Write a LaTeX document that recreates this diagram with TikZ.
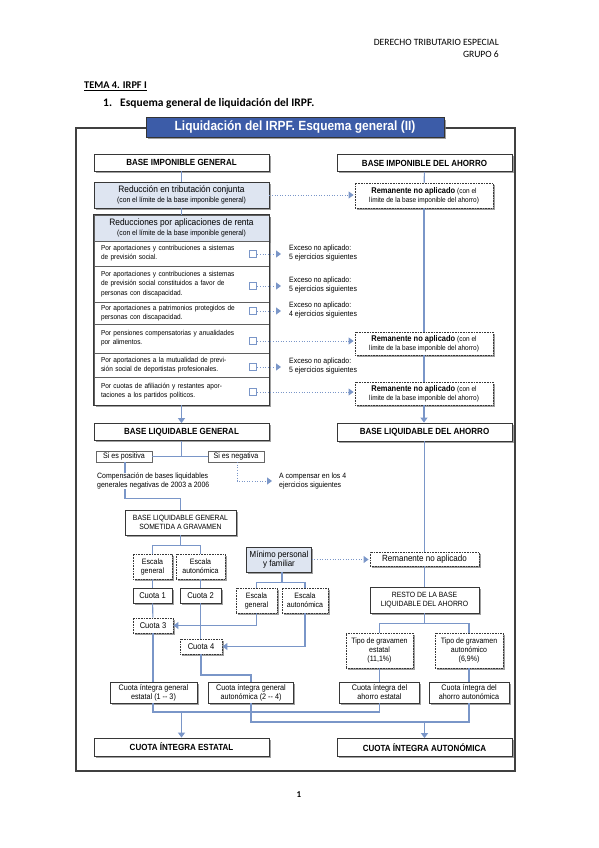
\documentclass[tikz,border=0pt]{standalone}
\usepackage{fontspec}
\setmainfont{Liberation Sans}
\newfontfamily\cf[FakeStretch=0.9]{Liberation Sans}
\newfontfamily\calf{Carlito}
\usetikzlibrary{arrows.meta,shadows}
\definecolor{lb}{RGB}{122,150,200}
\definecolor{bannerblue}{RGB}{60,92,168}
\definecolor{lfill}{RGB}{222,229,241}
\definecolor{bdr}{RGB}{55,55,55}
\tikzset{
 shd/.style={drop shadow={shadow xshift=1.6pt,shadow yshift=-1.6pt,fill=black!50,opacity=0.75}},
 hbox/.style={draw=bdr,line width=0.8pt,fill=white,shd,minimum width=175,minimum height=17,inner sep=0,font=\cf\bfseries\fontsize{8.9}{10}\selectfont},
 sbox/.style={draw=bdr,line width=0.7pt,fill=white,shd,inner sep=0,align=center,font=\cf\fontsize{8}{9}\selectfont},
 dbox/.style={draw=bdr,dash pattern=on 0.8pt off 0.8pt,line width=0.9pt,fill=white,shd,inner sep=0,align=center,font=\cf\fontsize{7.8}{9}\selectfont},
 fbox/.style={sbox,fill=lfill},
 rowbox/.style={draw=bdr!80,line width=0.5pt,fill=white,inner xsep=7,inner ysep=0,text width=161,align=left,font=\cf\fontsize{7.2}{9.2}\selectfont},
 sq/.style={draw=lb,line width=1.1pt,fill=white,minimum size=7.5,inner sep=0},
 lnk/.style={draw=lb,line width=1.1pt},
 dlnk/.style={draw=lb,line width=1pt,dash pattern=on 1pt off 1.6pt},
 arr/.style={-{Triangle[length=5pt,width=7pt]}},
 note/.style={inner sep=0,anchor=west,align=left,font=\cf\fontsize{7.7}{8.8}\selectfont},
}
\newcommand{\remtxt}{{\fontsize{8.3}{9}\selectfont\bfseries Remanente no aplicado} {\fontsize{7.2}{8.6}\selectfont(con el}\\{\fontsize{7.2}{8.6}\selectfont l\'imite de la base imponible del ahorro)}}
\begin{document}
\begin{tikzpicture}[x=1pt,y=-1pt]
\useasboundingbox (0,0) rectangle (599,848);
% page header
\node[anchor=base east,inner sep=0,font=\calf\fontsize{9.6}{10}\selectfont] (h1) at (499,46) {DERECHO TRIBUTARIO ESPECIAL};
\node[anchor=base east,inner sep=0,font=\calf\fontsize{9.6}{10}\selectfont] (h2) at (499,58) {GRUPO 6};
\node[anchor=base west,inner sep=0,font=\calf\bfseries\fontsize{10.3}{11}\selectfont] (tema) at (84,89) {\underline{TEMA 4. IRPF I}};
\node[anchor=base west,inner sep=0,font=\calf\bfseries\fontsize{11.5}{12}\selectfont] (num) at (103,107) {1.};
\node[anchor=base west,inner sep=0,font=\calf\bfseries\fontsize{11.5}{12}\selectfont] (sect) at (120,107) {Esquema general de liquidaci\'on del IRPF.};
\node[anchor=base,inner sep=0,font=\calf\bfseries\fontsize{9}{9}\selectfont] (pg) at (299,797) {1};
% frame and banner
\draw[line width=1.6pt,draw=black!75] (76,128) rectangle (515,771);
\node[draw=black!80,line width=1pt,fill=bannerblue,shd,minimum width=298,minimum height=19,inner sep=0,text=white,font=\cf\bfseries\fontsize{13.3}{14}\selectfont] (title) at (295,127.5) {Liquidaci\'on del IRPF. Esquema general (II)};
% top boxes
\node[hbox] (BIG) at (181.5,162.5) {BASE IMPONIBLE GENERAL};
\node[hbox] (BIA) at (424.5,163) {BASE IMPONIBLE DEL AHORRO};
\node[fbox,minimum width=175,minimum height=26,font=\cf\fontsize{9.3}{9.8}\selectfont] (RTC) at (181.5,195) {Reducci\'on en tributaci\'on conjunta\\{\fontsize{7.5}{8.4}\selectfont(con el l\'imite de la base imponible general)}};
\node[dbox,minimum width=138,minimum height=25] (R1) at (424,195.5) {\remtxt};
% reducciones block
\node[draw=bdr,line width=0.8pt,fill=white,shd,minimum width=175,minimum height=190,inner sep=0] (RB) at (181.5,310) {};
\node[fbox,draw=bdr!80,line width=0.5pt,drop shadow/.style={},minimum width=175,minimum height=26,font=\cf\fontsize{9.3}{9.8}\selectfont] (RH) at (181.5,228) {Reducciones por aplicaciones de renta\\{\fontsize{7.5}{8.4}\selectfont(con el l\'imite de la base imponible general)}};
\node[rowbox,minimum height=25] (r1) at (181.5,253.5) {Por aportaciones y contribuciones a sistemas\\de previsi\'on social.};
\node[rowbox,minimum height=36] (r2) at (181.5,284) {Por aportaciones y contribuciones a sistemas\\de previsi\'on social constituidos a favor de\\personas con discapacidad.};
\node[rowbox,minimum height=22] (r3) at (181.5,313) {Por aportaciones a patrimonios protegidos de\\personas con discapacidad.};
\node[rowbox,minimum height=29] (r4) at (181.5,338.5) {Por pensiones compensatorias y anualidades\\por alimentos.};
\node[rowbox,minimum height=24] (r5) at (181.5,365) {Por aportaciones a la mutualidad de previ-\\si\'on social de deportistas profesionales.};
\node[rowbox,minimum height=28] (r6) at (181.5,391) {Por cuotas de afiliaci\'on y restantes apor-\\taciones a los partidos pol\'iticos.};
\draw[draw=bdr,line width=0.8pt] (RB.north west) rectangle (RB.south east);
\node[sq] (q1) at (253,254) {};
\node[sq] (q2) at (253,286) {};
\node[sq] (q3) at (253,311) {};
\node[sq] (q4) at (253,341) {};
\node[sq] (q5) at (253,367) {};
\node[sq] (q6) at (253,392) {};
\node[note] (e1) at (289,253) {Exceso no aplicado:\\5 ejercicios siguientes};
\node[note] (e2) at (289,285) {Exceso no aplicado:\\5 ejercicios siguientes};
\node[note] (e3) at (289,310) {Exceso no aplicado:\\4 ejercicios siguientes};
\node[note] (e5) at (289,366) {Exceso no aplicado:\\5 ejercicios siguientes};
\node[dbox,minimum width=138,minimum height=23] (R2) at (424,343.5) {\remtxt};
\node[dbox,minimum width=138,minimum height=23] (R3) at (424,393.5) {\remtxt};
\draw[dlnk,arr,shorten >=8pt] (q1.east) -- (q1.east -| e1.west);
\draw[dlnk,arr,shorten >=8pt] (q2.east) -- (q2.east -| e2.west);
\draw[dlnk,arr,shorten >=8pt] (q3.east) -- (q3.east -| e3.west);
\draw[dlnk,arr,shorten >=8pt] (q5.east) -- (q5.east -| e5.west);
\draw[dlnk,arr,shorten >=1pt] (q4.east) -- (q4.east -| R2.west);
\draw[dlnk,arr,shorten >=1pt] (q6.east) -- (q6.east -| R3.west);
\draw[dlnk,arr,shorten >=1pt] (RTC.east) -- (RTC.east -| R1.west);
% left column links
\draw[lnk] (BIG) -- (RTC);
\draw[lnk] (RTC) -- (RB);
\node[hbox] (BLG) at (181.5,432) {BASE LIQUIDABLE GENERAL};
\node[hbox,minimum height=18] (BLA) at (424.5,432) {BASE LIQUIDABLE DEL AHORRO};
\draw[lnk,arr] (RB.south) -- (BLG.north);
% right column
\draw[lnk] (BIA) -- (R1);
\draw[lnk] (R1) -- (R2);
\draw[lnk] (R2) -- (R3);
\draw[lnk,arr] (R3.south) -- (R3.south |- BLA.north);
% si es positiva / negativa
\node[draw=black!60,line width=0.5pt,fill=white,minimum width=56,minimum height=11,inner sep=0,font=\cf\fontsize{7.9}{8}\selectfont] (pos) at (124,456.5) {Si es positiva};
\node[draw=black!60,line width=0.5pt,fill=white,minimum width=56,minimum height=11,inner sep=0,font=\cf\fontsize{7.9}{8}\selectfont] (neg) at (236,456.5) {Si es negativa};
\draw[lnk] (pos.east) -- (neg.west);
\draw[lnk] (BLG.south) -- (BLG.south |- pos.east);
\node[note] (comp) at (97,481) {Compensaci\'on de bases liquidables\\generales negativas de 2003 a 2006};
\node[note] (acomp) at (279,481) {A compensar en los 4\\ejercicios siguientes};
\coordinate (negc) at ([xshift=1pt]neg.south);
\draw[dlnk,arr] (negc) |- ([xshift=-7pt]acomp.west);
\node[sbox,minimum width=111,minimum height=25,font=\cf\fontsize{7.6}{9.4}\selectfont] (SAG) at (180.5,522.5) {BASE LIQUIDABLE GENERAL\\SOMETIDA A GRAVAMEN};
\draw[lnk] ([xshift=1pt]pos.south) -- ([xshift=1pt]pos.south |- comp.north);
\draw[lnk] ([xshift=1pt]pos.south |- comp.south) -- ++(0,9) -| (SAG.north);
% escalas
\node[dbox,minimum width=39,minimum height=25] (EG1) at (152.5,566.5) {Escala\\general};
\node[dbox,minimum width=49,minimum height=25] (EA1) at (200.5,566.5) {Escala\\auton\'omica};
\draw[lnk] (SAG.south) -- ++(0,10) coordinate (sj);
\draw[lnk] (EG1.north) |- (sj) -| (EA1.north);
\node[sbox,minimum width=39,minimum height=15,font=\cf\fontsize{8.4}{9}\selectfont] (C1) at (152.5,595.5) {Cuota 1};
\node[sbox,minimum width=41,minimum height=15,font=\cf\fontsize{8.4}{9}\selectfont] (C2) at (200.5,595.5) {Cuota 2};
\node[dbox,minimum width=40,minimum height=15,font=\cf\fontsize{8.4}{9}\selectfont] (C3) at (153,625.5) {Cuota 3};
\node[dbox,minimum width=42,minimum height=15,font=\cf\fontsize{8.4}{9}\selectfont] (C4) at (201,646.5) {Cuota 4};
\draw[lnk] (EG1) -- (C1);
\draw[lnk] (EA1) -- (C2);
\draw[lnk] (C1) -- (C3);
\draw[lnk] (C2.south) -- (C2.south |- C4.north);
% minimo
\node[fbox,minimum width=65,minimum height=25,font=\cf\fontsize{8.8}{9.6}\selectfont] (MIN) at (279,559.5) {M\'inimo personal\\y familiar};
\node[dbox,minimum width=41,minimum height=25] (EG2) at (256.5,600.5) {Escala\\general};
\node[dbox,minimum width=46,minimum height=25] (EA2) at (305,600.5) {Escala\\auton\'omica};
\draw[lnk] ([xshift=3pt]MIN.south) -- ++(0,10) coordinate (mj);
\draw[lnk] (EG2.north) |- (mj) -| (EA2.north);
\draw[lnk,arr] (EG2.south) |- (C3.east);
\draw[lnk,arr] (EA2.south) |- (C4.east);
\node[dbox,minimum width=109,minimum height=14,font=\cf\fontsize{8.9}{9}\selectfont] (R4) at (424.5,559) {Remanente no aplicado};
\draw[dlnk,arr,shorten >=1pt] (MIN.east) -- (MIN.east -| R4.west);
\draw[lnk] (BLA) -- (R4);
\node[sbox,minimum width=109,minimum height=26,font=\cf\fontsize{7.6}{9.6}\selectfont] (RES) at (424.5,600) {RESTO DE LA BASE\\LIQUIDABLE DEL AHORRO};
\draw[lnk] (R4) -- (RES);
\node[dbox,minimum width=67,minimum height=35] (TGE) at (379.5,650.5) {Tipo de gravamen\\estatal\\(11,1\%)};
\node[dbox,minimum width=68,minimum height=35] (TGA) at (469,650.5) {Tipo de gravamen\\auton\'omico\\(6,9\%)};
\draw[lnk] (RES.south) -- ++(0,10) coordinate (rj);
\draw[lnk] (TGE.north) |- (rj) -| (TGA.north);
% bottom row
\node[sbox,minimum width=87,minimum height=21] (CIGE) at (153.5,692.5) {Cuota \'integra general\\estatal (1 -- 3)};
\node[sbox,minimum width=85,minimum height=21] (CIGA) at (251,692.5) {Cuota \'integra general\\auton\'omica (2 -- 4)};
\node[sbox,minimum width=80,minimum height=21] (CIAE) at (379.5,692.5) {Cuota \'integra del\\ahorro estatal};
\node[sbox,minimum width=80,minimum height=21] (CIAA) at (469,692.5) {Cuota \'integra del\\ahorro auton\'omica};
\draw[lnk] (C3.south) -- (C3.south |- CIGE.north);
\draw[lnk] (C4.south) |- (CIGA.north |- 0,675) -- (CIGA.north);
\draw[lnk] (TGE) -- (CIAE);
\draw[lnk] (TGA) -- (CIAA);
\node[hbox,minimum height=18] (CIE) at (181.5,747) {CUOTA \'INTEGRA ESTATAL};
\node[hbox,minimum height=18] (CIA) at (424.5,747.5) {CUOTA \'INTEGRA AUTON\'OMICA};
\draw[lnk] ([xshift=-0.5pt]CIGE.south) |- (CIE.north |- 0,712) -| (CIAE.south);
\draw[lnk,arr] (CIE.north |- 0,712) -- (CIE.north);
\draw[lnk] (CIGA.south) |- (CIA.north |- 0,722) -| (CIAA.south);
\draw[lnk,arr] (CIA.north |- 0,722) -- (CIA.north);
\end{tikzpicture}
\end{document}
